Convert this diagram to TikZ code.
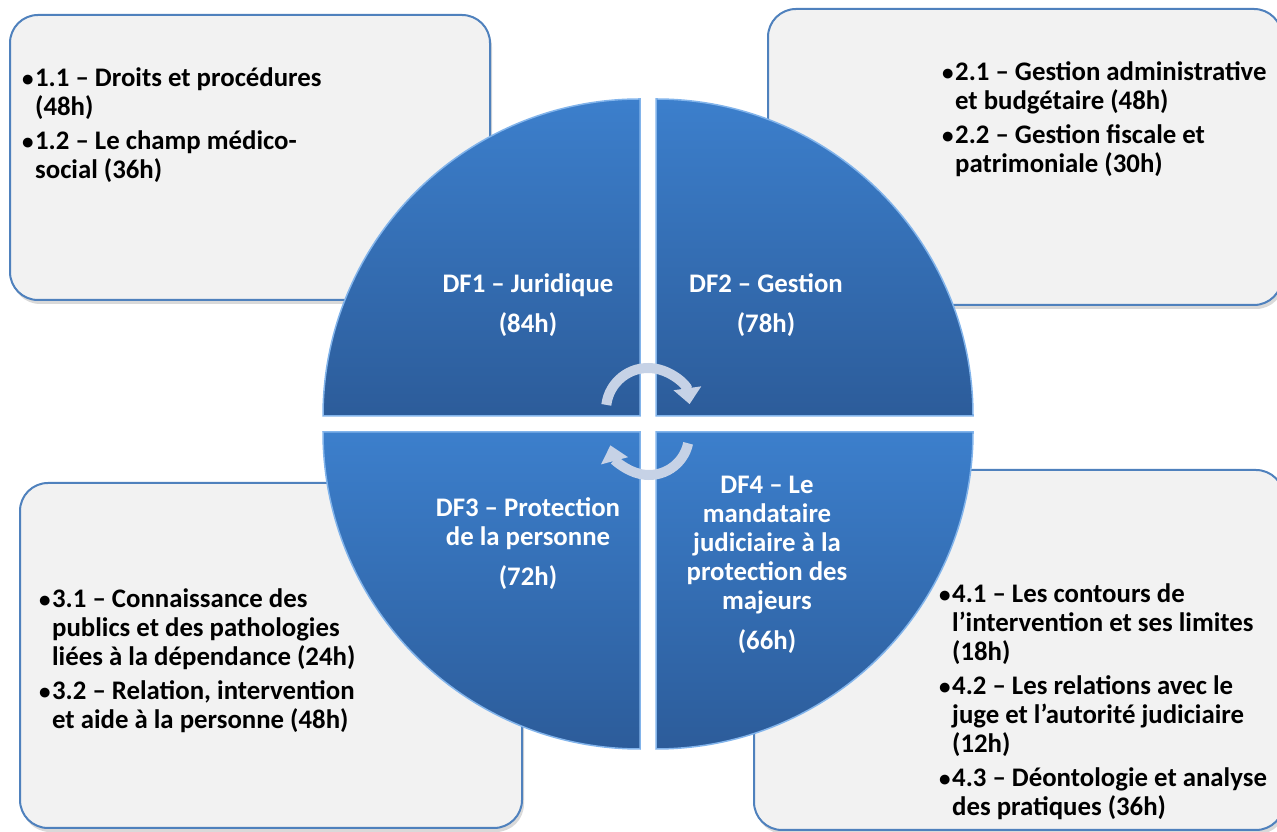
\documentclass[tikz,border=0pt]{standalone}
\usepackage{fontspec}
\setmainfont{Carlito}
\usetikzlibrary{shadows,arrows.meta,positioning}

\definecolor{boxfill}{RGB}{242,242,242}
\definecolor{boxline}{RGB}{79,129,189}
\definecolor{pietop}{RGB}{60,127,204}
\definecolor{piebot}{RGB}{44,92,154}
\definecolor{pieedge}{RGB}{130,180,235}
\definecolor{turn}{RGB}{198,210,230}

\newcommand{\firstln}{\rule{0pt}{20pt}}
\newcommand{\itembul}{{\fontsize{23}{23}\selectfont•}\kern1.5pt}
\newcommand{\hang}{\hphantom{\itembul}}

\begin{document}
\begin{tikzpicture}[x=1pt, y=1pt,
    infobox/.style={rounded corners=28pt, draw=boxline, line width=2pt, fill=boxfill,
        drop shadow={shadow xshift=2pt, shadow yshift=-4pt, opacity=0.3}},
    quarter/.style={top color=pietop, bottom color=piebot, draw=pieedge, line width=1.5pt},
    dflabel/.style={text=white, font=\bfseries\fontsize{26.8}{29}\selectfont, align=center, anchor=north, inner sep=0pt},
    items/.style={text=black, font=\bfseries\fontsize{26.8}{29}\selectfont, align=left, anchor=north west, inner sep=0pt},
    turnarrow/.style={draw=turn, line width=10pt, -{Triangle[width=27pt,length=16pt]}}
]
\useasboundingbox (0,0) rectangle (1277,832);

% Outer boxes
\draw[infobox] (10,532) rectangle (490,817);
\draw[infobox] (768,527) rectangle (1282,823);
\draw[infobox] (20,4) rectangle (522,349);
\draw[infobox] (754,2) rectangle (1284,362);

% Quarters of the circle
\draw[quarter] (640,416) -- ++(-317,0) arc (180:90:317) -- cycle;
\draw[quarter] (656,416) -- ++(0,317) arc (90:0:317) -- cycle;
\draw[quarter] (640,400) -- ++(0,-317) arc (270:180:317) -- cycle;
\draw[quarter] (656,400) -- ++(317,0) arc (0:-90:317) -- cycle;

% Turning arrows
\coordinate (hubtop) at (648,422);
\coordinate (hubbot) at (649,397);
\draw[turnarrow] ([shift={(173:42)}]hubtop) arc (173:8:42);
\draw[turnarrow] ([shift={(-12:40)}]hubbot) arc (-12:-165:40);

% Quarter labels
\node[dflabel] (df1) at (528,560) {\firstln DF1 – Juridique\\[11pt](84h)};
\node[dflabel] (df2) at (766,560) {\firstln DF2 – Gestion\\[11pt](78h)};
\node[dflabel] (df3) at (528,336) {\firstln DF3 – Protection\\de la personne\\[11pt](72h)};
\node[dflabel] (df4) at (767,359) {\firstln DF4 – Le\\mandataire\\judiciaire à la\\protection des\\majeurs\\[11pt](66h)};

% Box contents
\node[items] (list1) at (22,766) {\firstln\itembul1.1 – Droits et procédures\\\hang(48h)\\[5pt]\itembul1.2 – Le champ médico-\\\hang social (36h)};
\node[items] (list2) at (942,772) {\firstln\itembul2.1 – Gestion administrative\\\hang et budgétaire (48h)\\[5pt]\itembul2.2 – Gestion fiscale et\\\hang patrimoniale (30h)};
\node[items] (list3) at (39,245) {\firstln\itembul3.1 – Connaissance des\\\hang publics et des pathologies\\\hang liées à la dépendance (24h)\\[5pt]\itembul3.2 – Relation, intervention\\\hang et aide à la personne (48h)};
\node[items] (list4) at (939,250) {\firstln\itembul4.1 – Les contours de\\\hang l’intervention et ses limites\\\hang(18h)\\[5pt]\itembul4.2 – Les relations avec le\\\hang juge et l’autorité judiciaire\\\hang(12h)\\[5pt]\itembul4.3 – Déontologie et analyse\\\hang des pratiques (36h)};

\end{tikzpicture}
\end{document}
